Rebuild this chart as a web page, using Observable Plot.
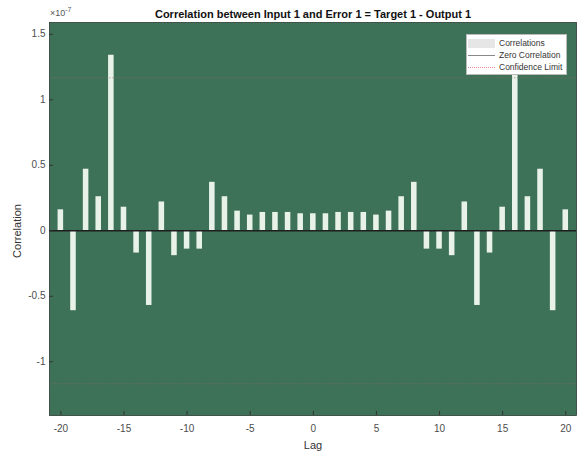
<!DOCTYPE html>
<html>
<head>
<meta charset="utf-8">
<script src="https://cdn.jsdelivr.net/npm/d3@7"></script>
<script src="https://cdn.jsdelivr.net/npm/@observablehq/plot@0.6"></script>
<style>
  body { margin: 0; background: #fff; font-family: "Liberation Sans", Arial, sans-serif; }
  #chart { position: relative; width: 577px; height: 456px; }
  .expo { position: absolute; left: 50px; top: 6px; font-size: 9px; color: #555; }
  .expo sup { font-size: 7px; }
  .legend {
    position: absolute; left: 466px; top: 34px; width: 101px; height: 41px;
    background: #fff; border: 1px solid #bbb; box-sizing: border-box;
    font-size: 8.5px; color: #333; padding-top: 2px;
  }
  .legend .row { display: flex; align-items: center; height: 12px; }
  .legend .key { width: 27px; height: 9px; margin: 0 4px 0 1px; position: relative; }
  .legend .patch { background: #e6e6e6; }
  .legend .line::after { content: ""; position: absolute; left: 0; right: 0; top: 4px; border-top: 1.2px solid #888; }
  .legend .conf::after { content: ""; position: absolute; left: 0; right: 0; top: 4px; border-top: 1px dotted #e08a9a; }
</style>
</head>
<body>
<div id="chart"></div>
<script>
// Cross-correlation of input 1 with error 1, in units of 1e-7
const lags = [-20, -19, -18, -17, -16, -15, -14, -13, -12, -11, -10, -9, -8, -7, -6, -5, -4, -3, -2, -1,
              0, 1, 2, 3, 4, 5, 6, 7, 8, 9, 10, 11, 12, 13, 14, 15, 16, 17, 18, 19, 20];
const correlations = [0.16, -0.61, 0.47, 0.26, 1.34, 0.18, -0.17, -0.57, 0.22, -0.19, -0.14, -0.14, 0.37, 0.26, 0.15, 0.12, 0.14, 0.14, 0.14, 0.13,
                      0.13, 0.13, 0.14, 0.14, 0.14, 0.12, 0.15, 0.26, 0.37, -0.14, -0.14, -0.19, 0.22, -0.57, -0.17, 0.18, 1.34, 0.26, 0.47, -0.61, 0.16];
const confidenceLimit = [1.168, -1.168];
const xTicks = [-20, -15, -10, -5, 0, 5, 10, 15, 20];
const yTicks = [-1, -0.5, 0, 0.5, 1, 1.5];
const titleText = "Correlation between Input 1 and Error 1 = Target 1 - Output 1";

const rows = lags.map((lag, i) => ({lag, r: correlations[i]}));
const halfWidth = 0.22;

const plot = Plot.plot({
  width: 577,
  height: 456,
  marginLeft: 49,
  marginRight: 1,
  marginTop: 22,
  marginBottom: 41,
  style: {fontFamily: "'Liberation Sans', Arial, sans-serif", fontSize: "10px", color: "#4d4d4d", background: "#fff"},
  x: {domain: [-20.9, 20.85], label: null},
  y: {domain: [-1.41, 1.59], label: null},
  marks: [
    Plot.frame({fill: "#3d7158"}),
    Plot.rect(rows, {x1: d => d.lag - halfWidth, x2: d => d.lag + halfWidth, y1: 0, y2: "r", fill: "#e8f2e9"}),
    Plot.ruleY(confidenceLimit, {stroke: "#9a6a66", strokeWidth: 1, strokeDasharray: "1.5,1.5", strokeOpacity: 0.5}),
    Plot.ruleY([0], {stroke: "#1e1e1e", strokeWidth: 1.6}),
    Plot.frame({stroke: "#2b3a33", strokeWidth: 0.8}),
    // tick labels
    Plot.axisX(xTicks, {tickSize: 0, tickPadding: 9, fontSize: 10, fill: "#4d4d4d", tickFormat: d => String(d), label: null}),
    Plot.axisY(yTicks, {tickSize: 0, tickPadding: 4, fontSize: 10, fill: "#4d4d4d", tickFormat: d => String(d), label: null}),
    // inward tick marks
    Plot.axisX(xTicks, {tickSize: 4, dy: -4, text: null, stroke: "#333", label: null}),
    Plot.axisY(yTicks, {tickSize: 4, dx: 4, text: null, stroke: "#333", label: null}),
    // axis titles and chart title
    Plot.text(["Lag"], {frameAnchor: "bottom", dy: 33, fontSize: 11, fill: "#333"}),
    Plot.text(["Correlation"], {frameAnchor: "left", textAnchor: "middle", dx: -32, dy: 12, rotate: -90, fontSize: 11, fill: "#333"}),
    Plot.text([titleText], {frameAnchor: "top", dy: -12, fontSize: 11, fontWeight: "bold", fill: "#111"})
  ]
});

const chart = document.getElementById("chart");
chart.appendChild(plot);

const expo = document.createElement("div");
expo.className = "expo";
expo.innerHTML = "×10<sup>-7</sup>";
chart.appendChild(expo);

const legendItems = [
  {cls: "patch", text: "Correlations"},
  {cls: "line", text: "Zero Correlation"},
  {cls: "conf", text: "Confidence Limit"}
];
const legend = document.createElement("div");
legend.className = "legend";
for (const item of legendItems) {
  const row = document.createElement("div");
  row.className = "row";
  const key = document.createElement("span");
  key.className = "key " + item.cls;
  const label = document.createElement("span");
  label.textContent = item.text;
  row.appendChild(key);
  row.appendChild(label);
  legend.appendChild(row);
}
chart.appendChild(legend);
</script>
</body>
</html>
